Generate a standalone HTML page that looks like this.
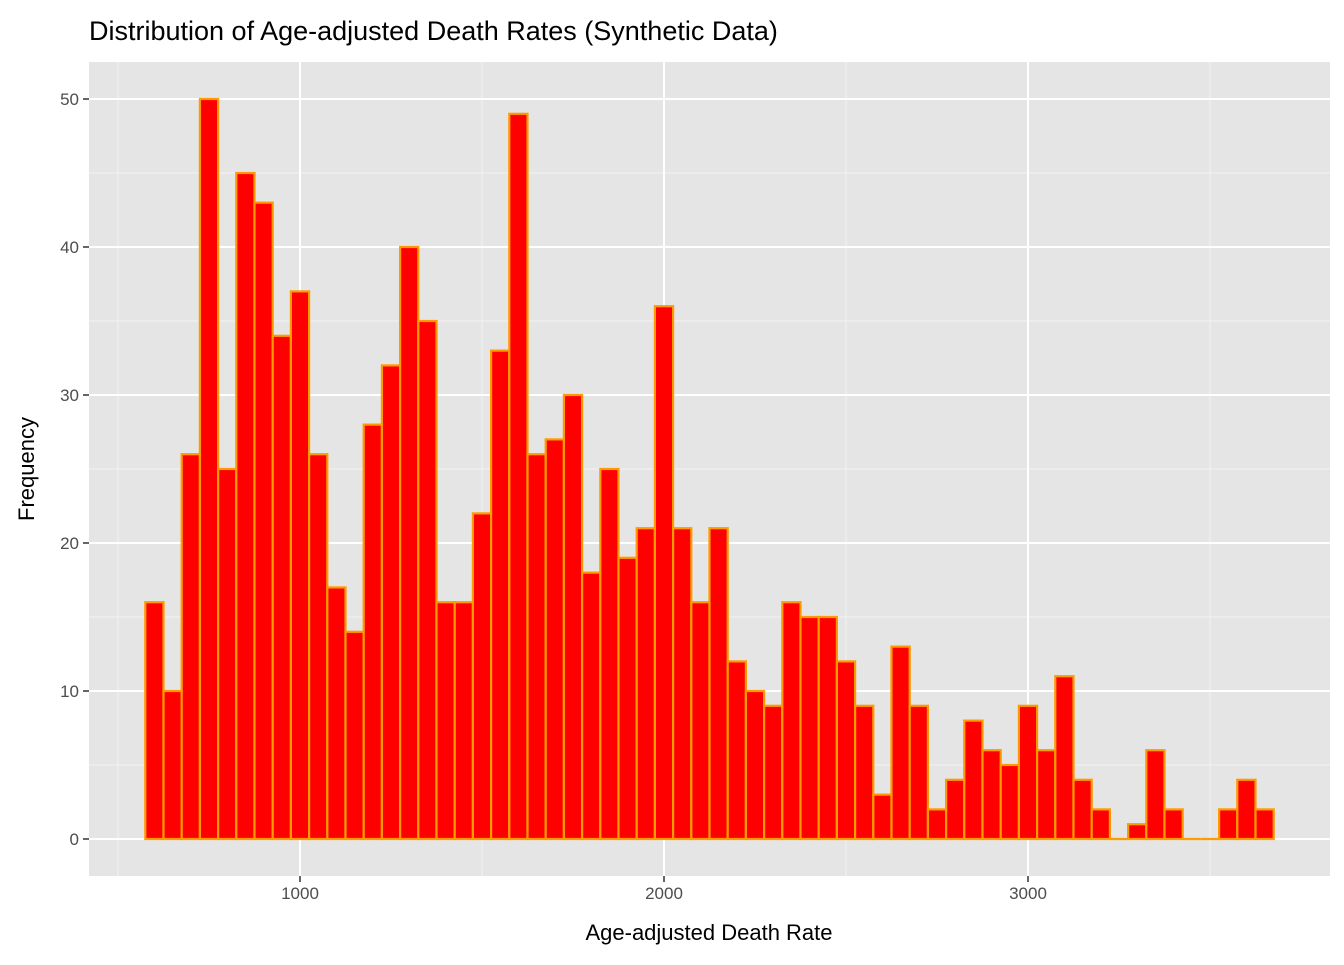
<!DOCTYPE html>
<html><head><meta charset="utf-8"><style>
body{margin:0;background:#fff;}
svg text{font-family:"Liberation Sans",Arial,sans-serif;}
</style></head><body>
<svg id="chart" width="1344" height="960" xmlns="http://www.w3.org/2000/svg">
<text x="89" y="40" font-size="27" fill="#000">Distribution of Age-adjusted Death Rates (Synthetic Data)</text>
<rect x="89" y="62" width="1241" height="814" fill="#e5e5e5"/>
<g id="grid"></g>
<g id="bars"></g>
<g id="axes"></g>
<text x="709" y="940" font-size="22" text-anchor="middle" fill="#000">Age-adjusted Death Rate</text>
<text transform="translate(34,469) rotate(-90)" font-size="22" text-anchor="middle" fill="#000">Frequency</text>
</svg>
<script>
const binCenters = [600,650,700,750,800,850,900,950,1000,1050,1100,1150,1200,1250,1300,1350,1400,1450,1500,1550,1600,1650,1700,1750,1800,1850,1900,1950,2000,2050,2100,2150,2200,2250,2300,2350,2400,2450,2500,2550,2600,2650,2700,2750,2800,2850,2900,2950,3000,3050,3100,3150,3200,3250,3300,3350,3400,3450,3500,3550,3600,3650];
const counts = [16,10,26,50,25,45,43,34,37,26,17,14,28,32,40,35,16,16,22,33,49,26,27,30,18,25,19,21,36,21,16,21,12,10,9,16,15,15,12,9,3,13,9,2,4,8,6,5,9,6,11,4,2,0,1,6,2,0,0,2,4,2];
const binWidth = 50;
const xTicks = [1000,2000,3000];
const xMinor = [500,1500,2500,3500];
const yTicks = [0,10,20,30,40,50];
const yMinor = [5,15,25,35,45];

const NS="http://www.w3.org/2000/svg";
const X=v=>300+(v-1000)*0.364;
const Y=v=>839-v*14.8;
const L=89,R=1330,T=62,B=876;
function mk(tag,attrs,parent){const e=document.createElementNS(NS,tag);for(const k in attrs)e.setAttribute(k,attrs[k]);document.getElementById(parent).appendChild(e);return e;}

xMinor.forEach(v=>{const e=mk('line',{x1:X(v),x2:X(v),y1:T,y2:B,stroke:'#f2f2f2','stroke-width':1},'grid');

});
yMinor.forEach(v=>{const e=mk('line',{x1:L,x2:R,y1:Y(v),y2:Y(v),stroke:'#f2f2f2','stroke-width':1},'grid');

});
xTicks.forEach(v=>{const e=mk('line',{x1:X(v),x2:X(v),y1:T,y2:B,stroke:'#fff','stroke-width':2},'grid');

});
yTicks.forEach(v=>{const e=mk('line',{x1:L,x2:R,y1:Y(v),y2:Y(v),stroke:'#fff','stroke-width':2},'grid');

});

binCenters.forEach((c,i)=>{const x0=X(c-binWidth/2),x1=X(c+binWidth/2);
let e;
if(counts[i]===0){
e=mk('line',{x1:x0,x2:x1,y1:Y(0),y2:Y(0),stroke:'#ff9a00','stroke-width':2.2},'bars');
}else{
e=mk('rect',{x:x0,y:Y(counts[i]),width:x1-x0,height:Y(0)-Y(counts[i]),fill:'#ff0000',stroke:'#ff9a00','stroke-width':2.2},'bars');
}

});

xTicks.forEach(v=>{const t=mk('line',{x1:X(v),x2:X(v),y1:B,y2:B+6,stroke:'#333','stroke-width':1.5},'axes');


const e=mk('text',{x:X(v),y:B+23,'font-size':17,'text-anchor':'middle',fill:'#4d4d4d'},'axes');e.textContent=v;

});
yTicks.forEach(v=>{const t=mk('line',{x1:L-6,x2:L,y1:Y(v),y2:Y(v),stroke:'#333','stroke-width':1.5},'axes');


const e=mk('text',{x:L-10,y:Y(v)+6,'font-size':17,'text-anchor':'end',fill:'#4d4d4d'},'axes');e.textContent=v;

});
</script>
</body></html>
